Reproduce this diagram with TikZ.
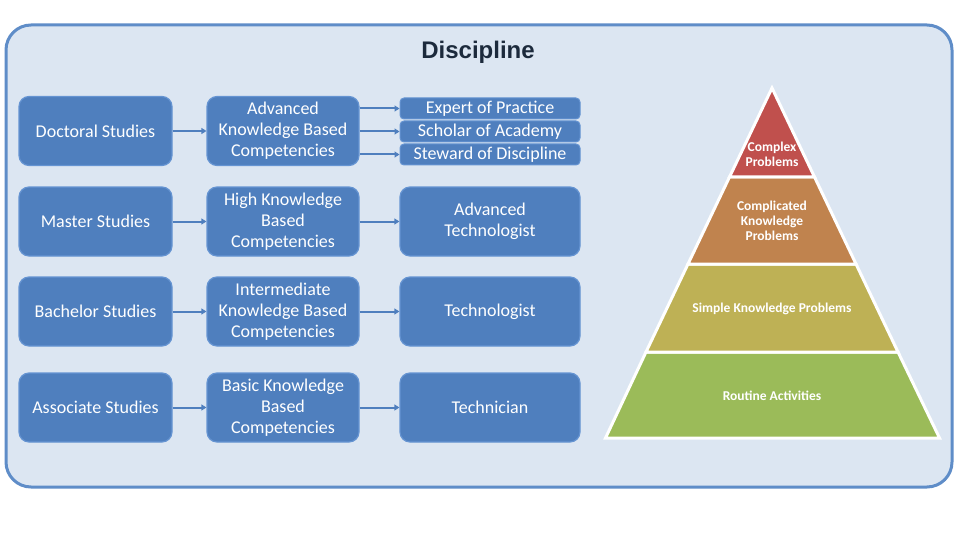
\documentclass[tikz,border=0pt]{standalone}
\usepackage{fontspec}
\setmainfont{Carlito}
\newfontfamily\titlefont{Liberation Sans}
\usetikzlibrary{arrows.meta}
\definecolor{bgfill}{HTML}{DCE6F2}
\definecolor{bgedge}{HTML}{5F8DC8}
\definecolor{boxblue}{HTML}{4F7FBE}
\definecolor{boxedge}{HTML}{6594D2}
\definecolor{titlecol}{HTML}{1C2A3C}
\definecolor{pyrred}{HTML}{C0504D}
\definecolor{pyrbrown}{HTML}{C0834E}
\definecolor{pyrolive}{HTML}{BEB155}
\definecolor{pyrgreen}{HTML}{9BBB59}
\tikzset{
  bigbox/.style={rounded corners=10pt, fill=boxblue, draw=boxedge, line width=1.2pt,
    minimum height=69pt, text=white, align=center, inner sep=0pt,
    font=\fontsize{18}{21}\selectfont},
  col1/.style={bigbox, minimum width=153pt},
  col2/.style={bigbox, minimum width=152pt},
  col3/.style={bigbox, minimum width=180pt},
  smallbox/.style={rounded corners=4pt, fill=boxblue, draw=boxedge, line width=1pt,
    minimum width=180pt, minimum height=21pt, text=white, inner sep=0pt,
    font=\fontsize{18}{21}\selectfont},
  link/.style={draw=boxblue, line width=2pt, -{Triangle[length=5pt,width=6pt]}},
  layer/.style={draw=white, line width=3pt, line join=miter},
  pyrtext/.style={text=white, align=center, inner sep=0pt,
    font=\bfseries\fontsize{13.5}{15}\selectfont},
}
\begin{document}
\begin{tikzpicture}[x=1pt,y=-1pt]
\useasboundingbox (0,0) rectangle (960,540);
\fill[white] (0,0) rectangle (960,540);
\draw[fill=bgfill, draw=bgedge, line width=3pt, rounded corners=25pt] (6,25) rectangle (952,487);
\node[font=\titlefont\bfseries\fontsize{24}{28}\selectfont, text=titlecol] (title) at (478,52) {Discipline};

% column 1
\node[col1] (doc) at (95.5,131) {Doctoral Studies};
\node[col1] (mas) at (95.5,221.5) {Master Studies};
\node[col1] (bac) at (95.5,311.5) {Bachelor Studies};
\node[col1] (ass) at (95.5,407.5) {Associate Studies};
% column 2
\node[col2] (adv) at (283,131) {Advanced\\Knowledge Based\\Competencies};
\node[col2] (high) at (283,221.5) {High Knowledge\\Based\\Competencies};
\node[col2] (inter) at (283,311.5) {Intermediate\\Knowledge Based\\Competencies};
\node[col2] (basic) at (283,407.5) {Basic Knowledge\\Based\\Competencies};
% column 3
\node[smallbox] (exp) at (490,108.5) {Expert of Practice};
\node[smallbox] (sch) at (490,131.5) {Scholar of Academy};
\node[smallbox] (ste) at (490,154.5) {Steward of Discipline};
\node[col3] (advt) at (490,221.5) {Advanced\\Technologist};
\node[col3] (tech) at (490,311.5) {Technologist};
\node[col3] (tcn) at (490,407.5) {Technician};

% connectors
\draw[link] (doc) -- (adv);
\draw[link] (mas) -- (high);
\draw[link] (bac) -- (inter);
\draw[link] (ass) -- (basic);
\draw[link] (adv.east |- exp.west) -- (exp.west);
\draw[link] (adv.east |- sch.west) -- (sch.west);
\draw[link] (adv.east |- ste.west) -- (ste.west);
\draw[link] (high) -- (advt);
\draw[link] (inter) -- (tech);
\draw[link] (basic) -- (tcn);

% pyramid
\filldraw[layer, fill=pyrgreen] (646,352) -- (898,352) -- (939.5,438) -- (605.5,438) -- cycle;
\filldraw[layer, fill=pyrolive] (688,264) -- (856,264) -- (898,352) -- (646,352) -- cycle;
\filldraw[layer, fill=pyrbrown] (729.5,177) -- (814.5,177) -- (856,264) -- (688,264) -- cycle;
\filldraw[layer, fill=pyrred] (772,88) -- (814.5,177) -- (729.5,177) -- cycle;
\node[pyrtext] (p1) at (772,154) {Complex\\Problems};
\node[pyrtext] (p2) at (772,220.5) {Complicated\\Knowledge\\Problems};
\node[pyrtext] (p3) at (772,308.5) {Simple Knowledge Problems};
\node[pyrtext] (p4) at (772,395.5) {Routine Activities};
\end{tikzpicture}
\end{document}
